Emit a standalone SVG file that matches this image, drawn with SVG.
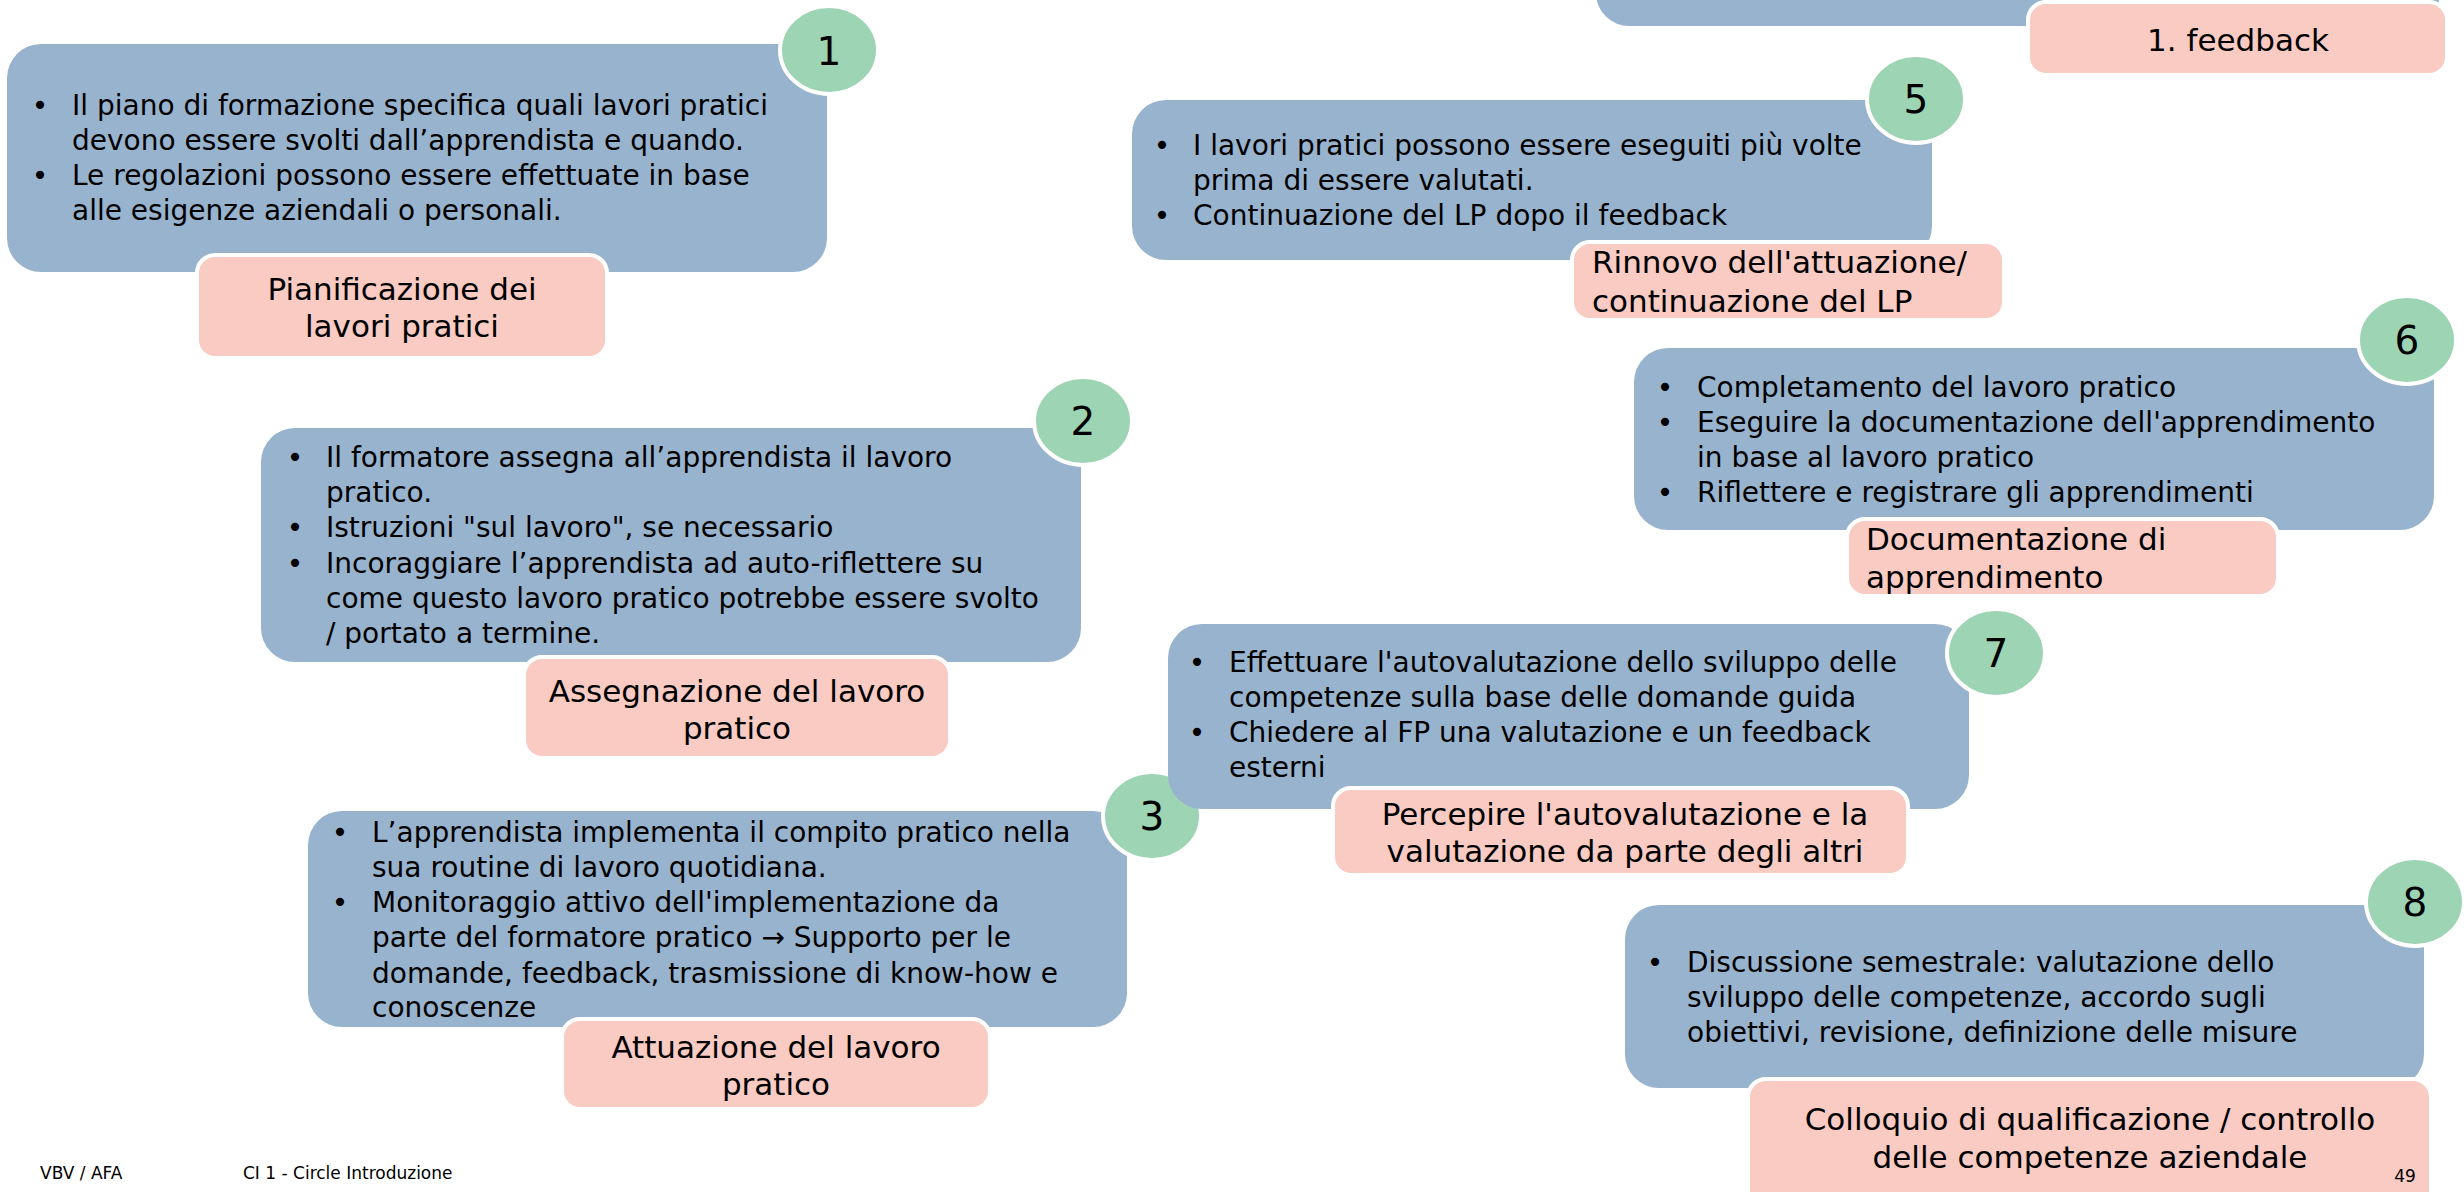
<svg xmlns="http://www.w3.org/2000/svg" width="2464" height="1192" viewBox="0 0 2464 1192">
<style>
.box{fill:#98B3CE;}
.lab{fill:#F9CBC3;stroke:#FFFFFF;stroke-width:4;}
.num{fill:#9DD4B4;stroke:#FFFFFF;stroke-width:4;}
text{font-family:"DejaVu Sans","Liberation Sans",sans-serif;fill:#000000;}
.t{font-size:28px;}
.b{font-size:28px;text-anchor:middle;}
.l{font-size:31px;}
.lc{font-size:31px;text-anchor:middle;}
.n{font-size:39px;text-anchor:middle;}
.f{font-size:17px;}
</style>
<rect width="2464" height="1192" fill="#FFFFFF"/>
<g id="connectors"></g>

<g id="node4">
<rect class="box" x="1596" y="-200" width="844" height="226" rx="33"/>
<rect class="lab" x="2028" y="2" width="419" height="73" rx="18"/>
<text class="lc" x="2238" y="51">1. feedback</text>
</g>

<g id="node1">
<rect class="box" x="7" y="44" width="820" height="228" rx="34"/>
<text class="b" x="40" y="115">•</text>
<text class="t" x="72" y="115">Il piano di formazione specifica quali lavori pratici</text>
<text class="t" x="72" y="150">devono essere svolti dall’apprendista e quando.</text>
<text class="b" x="40" y="185">•</text>
<text class="t" x="72" y="185">Le regolazioni possono essere effettuate in base</text>
<text class="t" x="72" y="220">alle esigenze aziendali o personali.</text>
<rect class="lab" x="197" y="255" width="410" height="103" rx="18"/>
<text class="lc" x="402" y="300">Pianificazione dei</text>
<text class="lc" x="402" y="337">lavori pratici</text>
<ellipse class="num" cx="829" cy="50" rx="49" ry="44"/>
<text class="n" x="829" y="65">1</text>
</g>

<g id="node2">
<rect class="box" x="261" y="428" width="820" height="234" rx="34"/>
<text class="b" x="295" y="467">•</text>
<text class="t" x="326" y="467">Il formatore assegna all’apprendista il lavoro</text>
<text class="t" x="326" y="502">pratico.</text>
<text class="b" x="295" y="537">•</text>
<text class="t" x="326" y="537">Istruzioni "sul lavoro", se necessario</text>
<text class="b" x="295" y="573">•</text>
<text class="t" x="326" y="573">Incoraggiare l’apprendista ad auto-riflettere su</text>
<text class="t" x="326" y="608">come questo lavoro pratico potrebbe essere svolto</text>
<text class="t" x="326" y="643">/ portato a termine.</text>
<rect class="lab" x="524" y="657" width="426" height="101" rx="18"/>
<text class="lc" x="737" y="702">Assegnazione del lavoro</text>
<text class="lc" x="737" y="739">pratico</text>
<ellipse class="num" cx="1083" cy="421" rx="49" ry="44"/>
<text class="n" x="1083" y="435">2</text>
</g>

<g id="node3">
<rect class="box" x="308" y="811" width="819" height="216" rx="34"/>
<text class="b" x="340" y="842">•</text>
<text class="t" x="372" y="842">L’apprendista implementa il compito pratico nella</text>
<text class="t" x="372" y="877">sua routine di lavoro quotidiana.</text>
<text class="b" x="340" y="912">•</text>
<text class="t" x="372" y="912">Monitoraggio attivo dell'implementazione da</text>
<text class="t" x="372" y="947">parte del formatore pratico → Supporto per le</text>
<text class="t" x="372" y="983">domande, feedback, trasmissione di know-how e</text>
<text class="t" x="372" y="1017">conoscenze</text>
<rect class="lab" x="562" y="1019" width="428" height="90" rx="18"/>
<text class="lc" x="776" y="1058">Attuazione del lavoro</text>
<text class="lc" x="776" y="1095">pratico</text>
<ellipse class="num" cx="1152" cy="816" rx="49" ry="44"/>
<text class="n" x="1152" y="830">3</text>
</g>

<g id="node5">
<rect class="box" x="1132" y="100" width="800" height="160" rx="34"/>
<text class="b" x="1162" y="155">•</text>
<text class="t" x="1193" y="155">I lavori pratici possono essere eseguiti più volte</text>
<text class="t" x="1193" y="190">prima di essere valutati.</text>
<text class="b" x="1162" y="225">•</text>
<text class="t" x="1193" y="225">Continuazione del LP dopo il feedback</text>
<rect class="lab" x="1572" y="242" width="432" height="78" rx="18"/>
<text class="l" x="1592" y="273">Rinnovo dell'attuazione/</text>
<text class="l" x="1592" y="312">continuazione del LP</text>
<ellipse class="num" cx="1916" cy="99" rx="49" ry="44"/>
<text class="n" x="1916" y="113">5</text>
</g>

<g id="node6">
<rect class="box" x="1634" y="348" width="800" height="182" rx="34"/>
<text class="b" x="1665" y="397">•</text>
<text class="t" x="1697" y="397">Completamento del lavoro pratico</text>
<text class="b" x="1665" y="432">•</text>
<text class="t" x="1697" y="432">Eseguire la documentazione dell'apprendimento</text>
<text class="t" x="1697" y="467">in base al lavoro pratico</text>
<text class="b" x="1665" y="502">•</text>
<text class="t" x="1697" y="502">Riflettere e registrare gli apprendimenti</text>
<rect class="lab" x="1847" y="519" width="431" height="77" rx="18"/>
<text class="l" x="1866" y="550">Documentazione di</text>
<text class="l" x="1866" y="588">apprendimento</text>
<ellipse class="num" cx="2407" cy="340" rx="49" ry="44"/>
<text class="n" x="2407" y="354">6</text>
</g>

<g id="node7">
<rect class="box" x="1168" y="624" width="801" height="185" rx="34"/>
<text class="b" x="1197" y="672">•</text>
<text class="t" x="1229" y="672">Effettuare l'autovalutazione dello sviluppo delle</text>
<text class="t" x="1229" y="707">competenze sulla base delle domande guida</text>
<text class="b" x="1197" y="742">•</text>
<text class="t" x="1229" y="742">Chiedere al FP una valutazione e un feedback</text>
<text class="t" x="1229" y="777">esterni</text>
<rect class="lab" x="1333" y="788" width="575" height="87" rx="18"/>
<text class="lc" x="1625" y="825">Percepire l'autovalutazione e la</text>
<text class="lc" x="1625" y="862">valutazione da parte degli altri</text>
<ellipse class="num" cx="1996" cy="653" rx="49" ry="44"/>
<text class="n" x="1996" y="667">7</text>
</g>

<g id="node8">
<rect class="box" x="1625" y="905" width="799" height="183" rx="34"/>
<text class="b" x="1655" y="972">•</text>
<text class="t" x="1687" y="972">Discussione semestrale: valutazione dello</text>
<text class="t" x="1687" y="1007">sviluppo delle competenze, accordo sugli</text>
<text class="t" x="1687" y="1042">obiettivi, revisione, definizione delle misure</text>
<rect class="lab" x="1748" y="1079" width="683" height="140" rx="18"/>
<text class="lc" x="2090" y="1130">Colloquio di qualificazione / controllo</text>
<text class="lc" x="2090" y="1168">delle competenze aziendale</text>
<ellipse class="num" cx="2415" cy="902" rx="49" ry="44"/>
<text class="n" x="2415" y="916">8</text>
</g>

<g id="footer">
<text class="f" x="40" y="1179">VBV / AFA</text>
<text class="f" x="243" y="1179">CI 1 - Circle Introduzione</text>
<text class="f" x="2405" y="1182" text-anchor="middle">49</text>
</g>
</svg>
